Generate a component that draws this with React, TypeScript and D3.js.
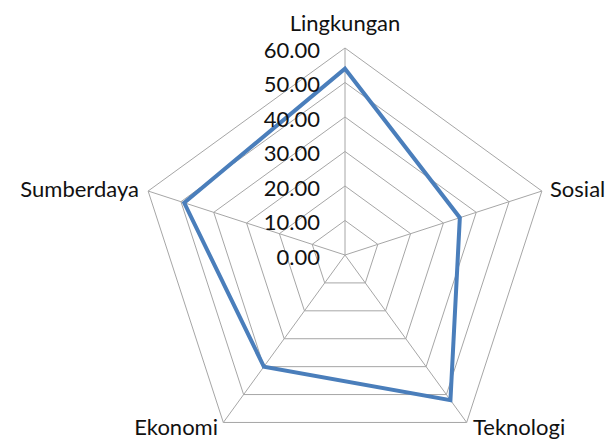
import { useEffect, useRef } from 'react';
import * as d3 from 'd3';

const categories = ['Lingkungan', 'Sosial', 'Teknologi', 'Ekonomi', 'Sumberdaya'];
const values = [54, 35, 52, 40, 49];
const ticks = [0, 10, 20, 30, 40, 50, 60];

export default function App() {
  const ref = useRef<SVGSVGElement>(null);

  useEffect(() => {
    const svg = d3.select(ref.current);
    svg.selectAll('*').remove();

    const cx = 345, cy = 255, R = 207;
    const r = d3.scaleLinear().domain([0, 60]).range([0, R]);
    const ang = (i: number) => (i * 2 * Math.PI) / categories.length;
    const pt = (i: number, v: number): [number, number] => [
      cx + r(v) * Math.sin(ang(i)),
      cy - r(v) * Math.cos(ang(i)),
    ];

    const g = svg.append('g');
    const font = 'Lato, "Open Sans", sans-serif';

    // rings
    ticks.slice(1).forEach(t => {
      g.append('path')
        .attr('d', d3.line()(categories.map((_, i) => pt(i, t))) + 'Z')
        .attr('fill', 'none')
        .attr('stroke', '#a6a6a6')
        .attr('stroke-width', 1);
    });

    // spokes
    categories.forEach((_, i) => {
      const [x, y] = pt(i, 60);
      g.append('line')
        .attr('x1', cx).attr('y1', cy)
        .attr('x2', x).attr('y2', y)
        .attr('stroke', '#a6a6a6')
        .attr('stroke-width', 1);
    });

    // series
    g.append('path')
      .attr('d', d3.line()(values.map((v, i) => pt(i, v))) + 'Z')
      .attr('fill', 'none')
      .attr('stroke', '#4a7ebb')
      .attr('stroke-width', 4)
      .attr('stroke-linejoin', 'miter');

    // tick labels
    ticks.forEach(t => {
      g.append('text')
        .attr('x', cx - 25)
        .attr('y', cy - r(t) + 2)
        .attr('dy', '0.35em')
        .attr('text-anchor', 'end')
        .attr('font-family', font)
        .attr('font-size', 22)
        .attr('fill', '#111')
        .text(t.toFixed(2));
    });

    // category labels
    const labelPos = [
      { x: 345, y: 31, anchor: 'middle', dy: '0' },
      { x: 550, y: 189, anchor: 'start', dy: '0.35em' },
      { x: 473, y: 435, anchor: 'start', dy: '0' },
      { x: 218, y: 435, anchor: 'end', dy: '0' },
      { x: 139, y: 189, anchor: 'end', dy: '0.35em' },
    ];
    categories.forEach((c, i) => {
      const p = labelPos[i];
      g.append('text')
        .attr('x', p.x)
        .attr('y', p.y)
        .attr('dy', p.dy)
        .attr('text-anchor', p.anchor)
        .attr('font-family', font)
        .attr('font-size', 22)
        .attr('fill', '#111')
        .text(c);
    });
  }, []);

  return (
    <svg
      ref={ref}
      width={606}
      height={441}
      style={{ position: 'absolute', left: 0, top: 0, background: '#fff' }}
    />
  );
}
